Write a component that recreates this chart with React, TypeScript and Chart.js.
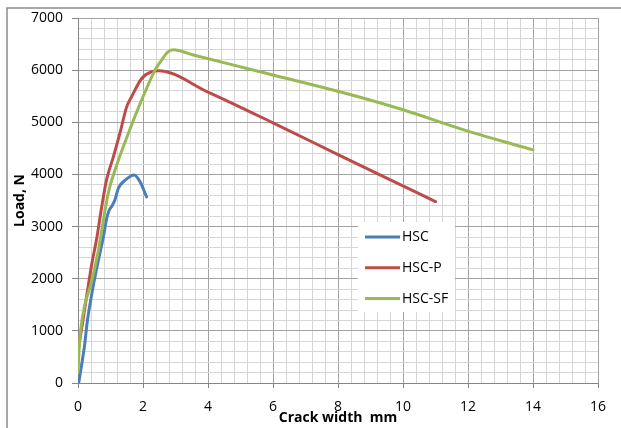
import { useEffect, useRef } from 'react';
import { Chart, registerables } from 'chart.js';

Chart.register(...registerables);

const seriesNames = ['HSC', 'HSC-P', 'HSC-SF'];
const seriesColors = ['#4A7EBB', '#BE4B48', '#98B954'];

const hscX = [0.02, 0.12, 0.21, 0.28, 0.38, 0.48, 0.63, 0.78, 0.88, 0.95, 1.05, 1.14, 1.24, 1.45, 1.73, 1.91, 2.11];
const hscY = [0, 380, 760, 1150, 1550, 1900, 2360, 2800, 3150, 3300, 3400, 3520, 3730, 3890, 3990, 3860, 3570];

const hscpX = [0.02, 0.17, 0.28, 0.43, 0.57, 0.73, 0.88, 1.09, 1.29, 1.5, 1.65, 1.96, 2.27, 2.47, 4, 6, 8, 9.29, 11];
const hscpY = [700, 1270, 1720, 2300, 2750, 3380, 3900, 4340, 4790, 5300, 5490, 5840, 5970, 5990, 5580, 4990, 4380, 3990, 3480];

const hscsfX = [0, 0.03, 0.08, 0.23, 0.4, 0.63, 0.68, 0.93, 1.14, 1.55, 1.96, 2.37, 2.57, 2.75, 2.93, 3.55, 5.6, 8.68, 10, 12, 14];
const hscsfY = [200, 600, 1000, 1550, 1900, 2550, 2740, 3640, 4085, 4790, 5430, 6000, 6190, 6340, 6390, 6290, 5970, 5480, 5240, 4830, 4470];

const xTickLabels = ['0', '2', '4', '6', '8', '10', '12', '14', '16'];
const yTickLabels = ['0', '1000', '2000', '3000', '4000', '5000', '6000', '7000'];

const xTitle = 'Crack width  mm';
const yTitle = 'Load, N';

const FONT = "'Open Sans', 'Liberation Sans', sans-serif";

function toPoints(xs: number[], ys: number[]) {
  return xs.map((x, i) => ({ x, y: ys[i] }));
}

function majorIndex(v: number, step: number): number {
  const idx = Math.round(v / step);
  return Math.abs(v - idx * step) < 1e-6 ? idx : -1;
}

const framePlugin = {
  id: 'frame',
  beforeDraw(chart: any) {
    const ctx = chart.ctx;
    ctx.save();
    ctx.fillStyle = '#ffffff';
    ctx.fillRect(0, 0, chart.width, chart.height);
    ctx.strokeStyle = '#8c8c8c';
    ctx.lineWidth = 1.5;
    ctx.beginPath();
    ctx.moveTo(7, chart.height);
    ctx.lineTo(7, 8);
    ctx.lineTo(chart.width, 8);
    ctx.stroke();
    ctx.restore();
  },
};

const legendPlugin = {
  id: 'customLegend',
  afterDraw(chart: any) {
    const ctx = chart.ctx;
    ctx.save();
    ctx.fillStyle = '#ffffff';
    ctx.fillRect(358, 222, 97, 90);
    ctx.font = `14px ${FONT}`;
    ctx.textBaseline = 'middle';
    ctx.textAlign = 'left';
    chart.data.datasets.forEach((ds: any, i: number) => {
      const y = 237 + i * 30.8;
      ctx.strokeStyle = ds.borderColor;
      ctx.lineWidth = 3;
      ctx.lineCap = 'butt';
      ctx.beginPath();
      ctx.moveTo(365, y);
      ctx.lineTo(400, y);
      ctx.stroke();
      ctx.fillStyle = '#000000';
      ctx.fillText(ds.label, 402, y + 0.5);
    });
    ctx.restore();
  },
};

export default function App() {
  const canvasRef = useRef<HTMLCanvasElement | null>(null);

  useEffect(() => {
    document.body.style.margin = '0';
    const canvas = canvasRef.current;
    if (!canvas) return;
    const xs = [hscX, hscpX, hscsfX];
    const ys = [hscY, hscpY, hscsfY];
    const chart = new Chart(canvas, {
      type: 'scatter',
      data: {
        datasets: seriesNames.map((name, i) => ({
          label: name,
          data: toPoints(xs[i], ys[i]),
          borderColor: seriesColors[i],
          backgroundColor: seriesColors[i],
          borderWidth: 3,
          showLine: true,
          pointRadius: 0,
          pointHoverRadius: 0,
          cubicInterpolationMode: 'monotone' as const,
          borderCapStyle: 'round' as const,
          borderJoinStyle: 'round' as const,
          order: 3 - i,
        })),
      },
      plugins: [framePlugin, legendPlugin],
      options: {
        animation: false,
        responsive: false,
        devicePixelRatio: 1,
        layout: { padding: { left: 0, top: 18, right: 23, bottom: 0 } },
        plugins: {
          legend: { display: false },
          tooltip: { enabled: false },
        },
        scales: {
          x: {
            type: 'linear',
            min: 0,
            max: 16,
            afterFit: (scale: any) => {
              scale.height = 45;
            },
            border: { color: '#868686', width: 1 },
            grid: {
              color: (c: any) => (majorIndex(c.tick?.value ?? 0, 2) >= 0 ? '#a3a3a3' : '#d6d6d6'),
              tickColor: (c: any) => (majorIndex(c.tick?.value ?? 0, 2) >= 0 ? '#868686' : 'rgba(0,0,0,0)'),
              tickLength: 5,
              lineWidth: 1,
            },
            ticks: {
              stepSize: 0.4,
              autoSkip: false,
              maxRotation: 0,
              padding: 11,
              color: '#000000',
              font: { family: FONT, size: 14 },
              callback: (v: any) => {
                const idx = majorIndex(Number(v), 2);
                return idx >= 0 ? xTickLabels[idx] : '';
              },
            },
            title: {
              display: true,
              text: xTitle,
              color: '#000000',
              font: { family: FONT, size: 14, weight: 'bold' },
              padding: { top: 0, bottom: 2 },
            },
          },
          y: {
            type: 'linear',
            min: 0,
            max: 7000,
            afterFit: (scale: any) => {
              scale.width = 78;
            },
            border: { color: '#868686', width: 1 },
            grid: {
              color: (c: any) => (majorIndex(c.tick?.value ?? 0, 1000) >= 0 ? '#a3a3a3' : '#d6d6d6'),
              tickColor: (c: any) => (majorIndex(c.tick?.value ?? 0, 1000) >= 0 ? '#868686' : 'rgba(0,0,0,0)'),
              tickLength: 6,
              lineWidth: 1,
            },
            ticks: {
              stepSize: 200,
              autoSkip: false,
              padding: 9,
              color: '#000000',
              font: { family: FONT, size: 14 },
              callback: (v: any) => {
                const idx = majorIndex(Number(v), 1000);
                return idx >= 0 ? yTickLabels[idx] : '';
              },
            },
            title: {
              display: true,
              text: yTitle,
              color: '#000000',
              font: { family: FONT, size: 14, weight: 'bold' },
              padding: { top: 12, bottom: 0 },
            },
          },
        },
      },
    } as any);
    return () => {
      chart.destroy();
    };
  }, []);

  return (
    <div style={{ width: 621, height: 428 }}>
      <canvas ref={canvasRef} width={621} height={428} style={{ display: 'block' }} />
    </div>
  );
}
